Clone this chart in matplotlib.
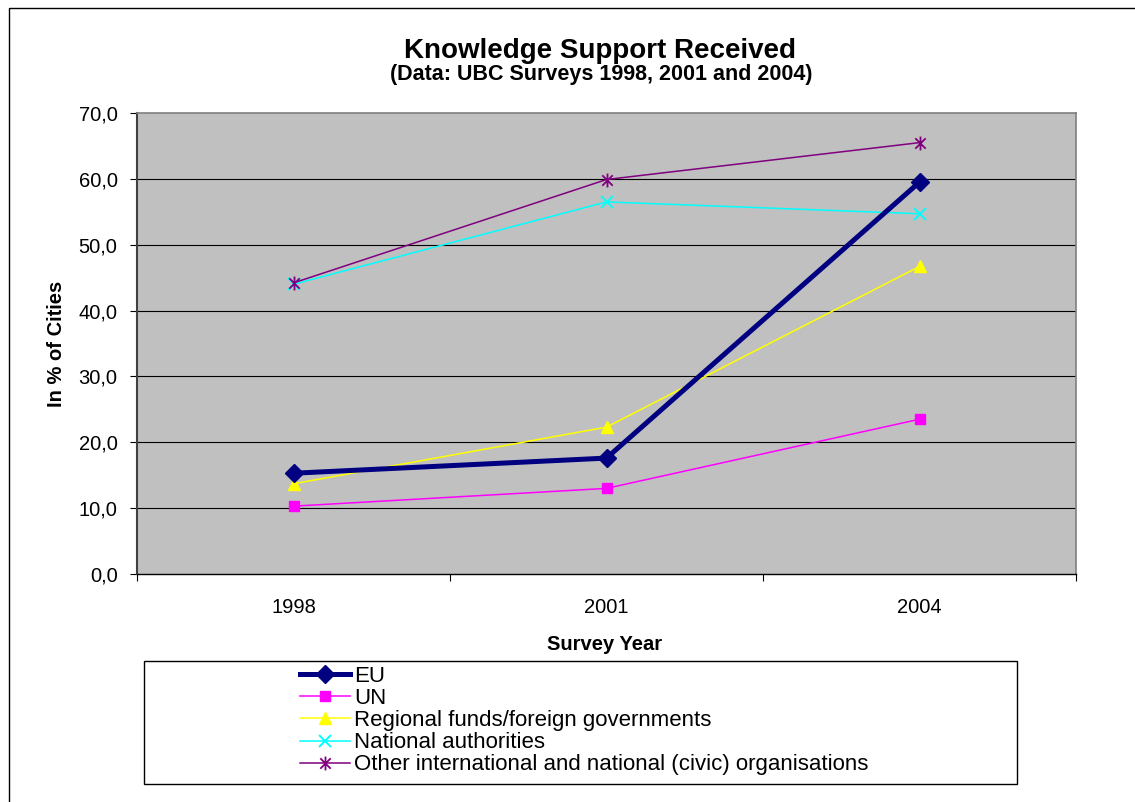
import matplotlib
matplotlib.use("Agg")
import matplotlib.pyplot as plt
from matplotlib.path import Path
from matplotlib.patches import Rectangle
from matplotlib.ticker import FixedLocator, FuncFormatter

plt.rcParams['font.family'] = ['Liberation Sans', 'DejaVu Sans']

years = ['1998', '2001', '2004']
eu = [15.3, 17.6, 59.5]
un = [10.3, 13.0, 23.5]
regional = [13.7, 22.3, 46.7]
national = [44.0, 56.5, 54.7]
other = [44.2, 59.9, 65.5]
labels = ['EU', 'UN', 'Regional funds/foreign governments', 'National authorities',
          'Other international and national (civic) organisations']

W, H = 1135, 802
fig = plt.figure(figsize=(W / 100, H / 100), dpi=100)
fig.patch.set_facecolor('white')

# outer chart frame
fig.patches.append(Rectangle((9 / W, -0.1), 2, 1 - 8 / H + 0.1, transform=fig.transFigure,
                             fill=False, edgecolor='black', linewidth=1.0))

L, R, T, B = 137, 1076, 113, 574
ax = fig.add_axes([L / W, 1 - B / H, (R - L) / W, (B - T) / H])
ax.set_facecolor('#C0C0C0')

x = list(range(len(years)))

star = Path([(0, -1), (0, 1), (-0.75, -0.75), (0.75, 0.75), (-0.75, 0.75), (0.75, -0.75)],
            [Path.MOVETO, Path.LINETO, Path.MOVETO, Path.LINETO, Path.MOVETO, Path.LINETO])

ax.plot(x, un, color='#FF00FF', lw=1.1, marker='s', ms=7, mec='#FF00FF', mfc='#FF00FF', zorder=3)
ax.plot(x, regional, color='#FFFF00', lw=1.1, marker='^', ms=9, mec='#FFFF00', mfc='#FFFF00', zorder=3)
ax.plot(x, national, color='#00FFFF', lw=1.1, marker='x', ms=9, mew=1.4, mec='#00FFFF', zorder=3)
ax.plot(x, other, color='#800080', lw=1.1, marker=star, ms=10, mew=1.3, mec='#800080', zorder=3)
ax.plot(x, eu, color='#000080', lw=3.6, marker='D', ms=9.5, mec='#000080', mfc='#000080', zorder=4)

ax.set_xlim(-0.5, 2.5)
ax.set_ylim(0, 70)

ax.set_yticks(range(0, 71, 10))
ax.yaxis.set_major_formatter(FuncFormatter(lambda v, p: f"{v:.1f}".replace('.', ',')))
ax.tick_params(axis='y', direction='out', length=5, width=0.8, pad=9, labelsize=14.5, colors='black')
for yv in range(10, 70, 10):
    ax.axhline(yv, color='black', lw=0.8, zorder=1)

ax.set_xticks(x)
ax.set_xticklabels(years)
ax.xaxis.set_minor_locator(FixedLocator([-0.5, 0.5, 1.5, 2.5]))
ax.tick_params(axis='x', which='major', length=0, pad=17, labelsize=14.5)
ax.tick_params(axis='x', which='minor', direction='out', length=5, width=0.8)

ax.spines['bottom'].set_color('black')
ax.spines['bottom'].set_linewidth(1.0)
ax.spines['left'].set_color('#404040')
ax.spines['left'].set_linewidth(1.5)
ax.spines['top'].set_color('#808080')
ax.spines['right'].set_color('#808080')
ax.spines['top'].set_linewidth(1.2)
ax.spines['right'].set_linewidth(1.2)

fig.text(600 / W, 1 - 58 / H, 'Knowledge Support Received', ha='center', va='baseline',
         fontsize=20, fontweight='bold')
fig.text(601 / W, 1 - 80 / H, '(Data: UBC Surveys 1998, 2001 and 2004)', ha='center', va='baseline',
         fontsize=15.5, fontweight='bold')
fig.text(57 / W, 1 - 344 / H, 'In % of Cities', rotation=90, ha='center', va='center',
         fontsize=14.5, fontweight='bold')
fig.text(605 / W, 1 - 644 / H, 'Survey Year', ha='center', va='center',
         fontsize=14.5, fontweight='bold')

# legend box
fig.patches.append(Rectangle((144 / W, 1 - 784 / H), (1017 - 144) / W, (784 - 661) / H,
                             transform=fig.transFigure, fill=False, edgecolor='black', linewidth=1.0))
handles = ax.get_lines()
order = [4, 0, 1, 2, 3]
leg = fig.legend([handles[i] for i in order], labels, loc='upper left',
                 bbox_to_anchor=(300 / W, 1 - 666 / H), frameon=False, fontsize=16,
                 labelspacing=0.05, handlelength=2.25, handletextpad=0.2, borderpad=0,
                 borderaxespad=0)

fig.savefig('out.png', dpi=100, facecolor='white')
